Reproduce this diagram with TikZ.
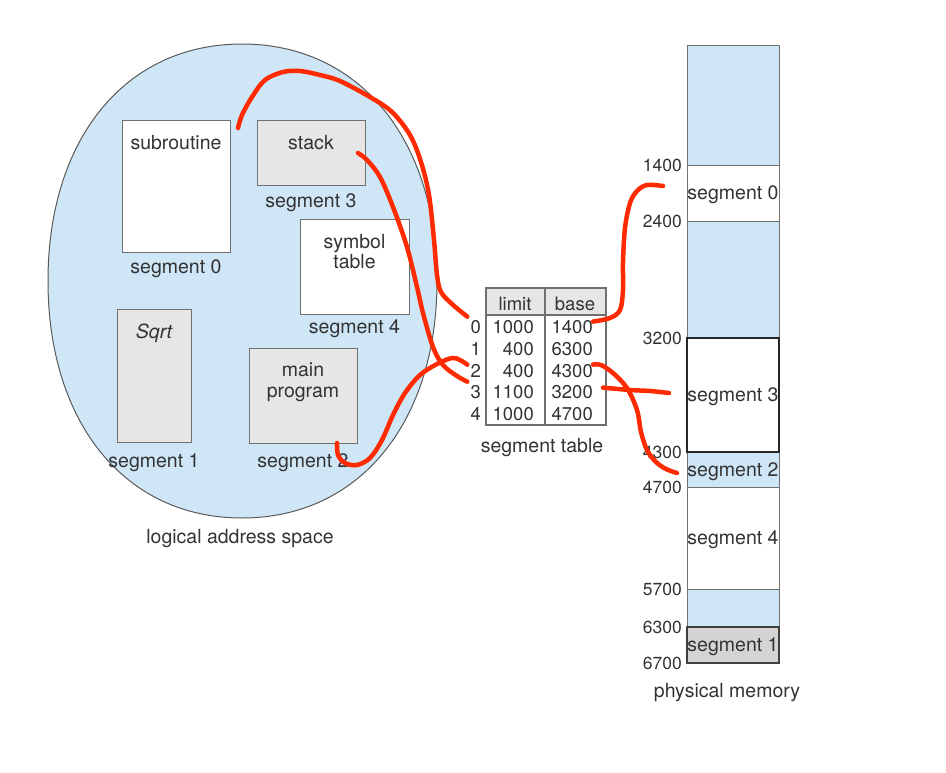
\documentclass[tikz,border=0pt]{standalone}
\usepackage{fontspec}
\setmainfont{TeX Gyre Heros}
\usepackage{xcolor}
\usetikzlibrary{positioning}
\definecolor{memblue}{HTML}{CFE6F7}
\definecolor{boxgray}{HTML}{E6E6E6}
\definecolor{segfill}{HTML}{D4D4D4}
\definecolor{edgegray}{HTML}{707070}
\definecolor{inkgray}{HTML}{333333}
\definecolor{penred}{HTML}{FF2A00}

\begin{document}
\begin{tikzpicture}[x=1pt, y=-1pt,
  every node/.style={font=\fontsize{19.5}{20.5}\selectfont, text=inkgray},
  segbox/.style={draw=edgegray, line width=1pt, fill=white, inner sep=0pt, outer sep=0pt},
  graybox/.style={segbox, fill=boxgray},
  boxtitle/.style={anchor=north, inner sep=0pt, align=center},
  seglbl/.style={anchor=base, inner sep=0pt},
  cell/.style={font=\fontsize{18.5}{20}\selectfont, anchor=base east, inner sep=0pt},
  idx/.style={cell, inner sep=3pt},
  memcell/.style={draw=edgegray, line width=1pt, minimum width=92pt, inner sep=0pt, outer sep=0pt,
                  text depth=0pt, fill=white},
  addr/.style={font=\fontsize{17.5}{18}\selectfont, anchor=east, inner sep=1pt},
  pen/.style={draw=penred, line width=4.5pt, line cap=round, line join=round}
]
\useasboundingbox (0,0) rectangle (946,772);

% Logical address space
\draw[fill=memblue, draw=black!65, line width=1pt]
  (242,44) .. controls (359,44) and (437,139) .. (437,281)
  .. controls (437,423) and (359,518) .. (242,518)
  .. controls (125,518) and (48,423) .. (48,281)
  .. controls (48,139) and (125,44) .. (242,44) -- cycle;
\node[seglbl] (lasname) at (240,543) {logical address space};

\node[segbox,  minimum width=108pt, minimum height=132pt] (subr)   at (176,186)   {};
\node[graybox, minimum width=108pt, minimum height=65pt]  (stack)  at (311,152.5) {};
\node[segbox,  minimum width=109pt, minimum height=95pt]  (symtab) at (354.5,266.5) {};
\node[graybox, minimum width=74pt,  minimum height=133pt] (sqrt)   at (154,375.5) {};
\node[graybox, minimum width=108pt, minimum height=95pt]  (mainp)  at (303,395.5) {};

\node[boxtitle] (subrtxt)   at ([yshift=-15pt]subr.north)   {subroutine};
\node[boxtitle] (stacktxt)  at ([yshift=-15pt]stack.north)  {stack};
\node[boxtitle] (symtabtxt) at ([yshift=-15pt]symtab.north) {symbol\\table};
\node[boxtitle] (sqrttxt)   at ([yshift=-15pt]sqrt.north)   {\itshape Sqrt};
\node[boxtitle] (mainptxt)  at ([yshift=-15pt]mainp.north)  {main\\program};

\node[seglbl] (subrlbl)   at ([yshift=-21pt]subr.south)   {segment 0};
\node[seglbl] (stacklbl)  at ([yshift=-22pt]stack.south)  {segment 3};
\node[seglbl] (symtablbl) at ([yshift=-19pt]symtab.south) {segment 4};
\node[seglbl] (sqrtlbl)   at ([yshift=-25pt]sqrt.south)   {segment 1};
\node[seglbl] (mainplbl)  at ([yshift=-24pt]mainp.south)  {segment 2};

% Segment table
\draw[fill=boxgray, draw=none] (486,288) rectangle (606,315);
\draw[edgegray, line width=1.2pt] (486,288) rectangle (606,425);
\draw[edgegray, line width=1.2pt] (486,315) -- (606,315) (545,288) -- (545,425);
\node[cell, anchor=base] (hlimit) at (515,310) {limit};
\node[cell, anchor=base] (hbase)  at (575,310) {base};
\node[idx] (i0) at (484,333) {0}; \node[cell] (l0) at (534,333) {1000}; \node[cell] (b0) at (593,333) {1400};
\node[idx] (i1) at (484,355) {1}; \node[cell] (l1) at (534,355) {400};  \node[cell] (b1) at (593,355) {6300};
\node[idx] (i2) at (484,377) {2}; \node[cell] (l2) at (534,377) {400};  \node[cell] (b2) at (593,377) {4300};
\node[idx] (i3) at (484,398) {3}; \node[cell] (l3) at (534,398) {1100}; \node[cell] (b3) at (593,398) {3200};
\node[idx] (i4) at (484,420) {4}; \node[cell] (l4) at (534,420) {1000}; \node[cell] (b4) at (593,420) {4700};
\node[seglbl] (tblname) at (542,452) {segment table};

% Physical memory
\node[memcell, fill=memblue, minimum height=120pt] (free0) at (733,105)   {};
\node[memcell, minimum height=56pt]                (seg0)  at (733,193)   {segment 0};
\node[memcell, fill=memblue, minimum height=117pt] (free1) at (733,279.5) {};
\node[memcell, fill=memblue, minimum height=35pt]  (seg2)  at (733,469.5) {segment 2};
\node[memcell, minimum height=102pt]               (seg4)  at (733,538)   {segment 4};
\node[memcell, fill=memblue, minimum height=38pt]  (free2) at (733,608)   {};
\node[memcell, fill=segfill, draw=black!75, line width=1.3pt, minimum height=36pt] (seg1) at (733,645) {segment 1};
\node[memcell, draw=black!85, line width=1.6pt, minimum height=114pt] (seg3) at (733,395) {segment 3};
\node[seglbl] (memname) at (727,697) {physical memory};

\node[addr] (a1400) at (683,165) {1400};
\node[addr] (a2400) at (683,221) {2400};
\node[addr] (a3200) at (683,338) {3200};
\node[addr] (a4300) at (683,452) {4300};
\node[addr] (a4700) at (683,487) {4700};
\node[addr] (a5700) at (683,589) {5700};
\node[addr] (a6300) at (683,627) {6300};
\node[addr] (a6700) at (683,663) {6700};

% Hand-drawn red links
\coordinate (p0s) at ([shift={(8pt,-8pt)}]subr.north east);
\coordinate (p3s) at ([shift={(-7pt,-33pt)}]stack.north east);
\coordinate (p2s) at ([xshift=-20pt]mainp.south east);
\coordinate (q0s) at ([yshift=5pt]b0.east);
\coordinate (q2s) at ([yshift=6pt]b2.east);
\coordinate (q3s) at ([shift={(10pt,4pt)}]b3.east);
\coordinate (q0e) at ([shift={(-24pt,7pt)}]seg0.west);
\coordinate (q2e) at ([shift={(-10pt,-3.5pt)}]seg2.west);
\coordinate (q3e) at ([shift={(-18pt,2pt)}]seg3.west);

\draw[pen] plot[smooth, tension=0.55] coordinates {(p0s) (242,115) (252,97) (265,80) (283,72) (300,71)
  (320,75) (340,81) (370,97) (392,112) (410,135) (421,162) (429,195) (434,240) (437,275) (441,292)
  (452,304) (i0.north west)};
\draw[pen] plot[smooth, tension=0.55] coordinates {(p3s) (367,160) (380,177) (393,207) (407,247)
  (417,287) (423,313) (433,347) (443,365) (457,376) (i3.north west)};
\draw[pen] plot[smooth, tension=0.55] coordinates {(p2s) (338,455) (345,463) (357,465) (370,458)
  (382,440) (393,415) (405,393) (420,375) (437,364) (452,358) (460,360) ([yshift=-4pt]i2.north west)};
\draw[pen] plot[smooth, tension=0.55] coordinates {(q0s) (610,318) (620,310) (623,290) (623,262)
  (625,228) (630,203) (637,191) (647,185) (q0e)};
\draw[pen] plot[smooth, tension=0.55] coordinates {(q2s) (601,365) (613,373) (627,388) (637,410)
  (641,432) (647,450) (656,462) (666,469) (q2e)};
\draw[pen] plot[smooth, tension=0.55] coordinates {(q3s) (630,390) (650,391) (q3e)};
\end{tikzpicture}
\end{document}
